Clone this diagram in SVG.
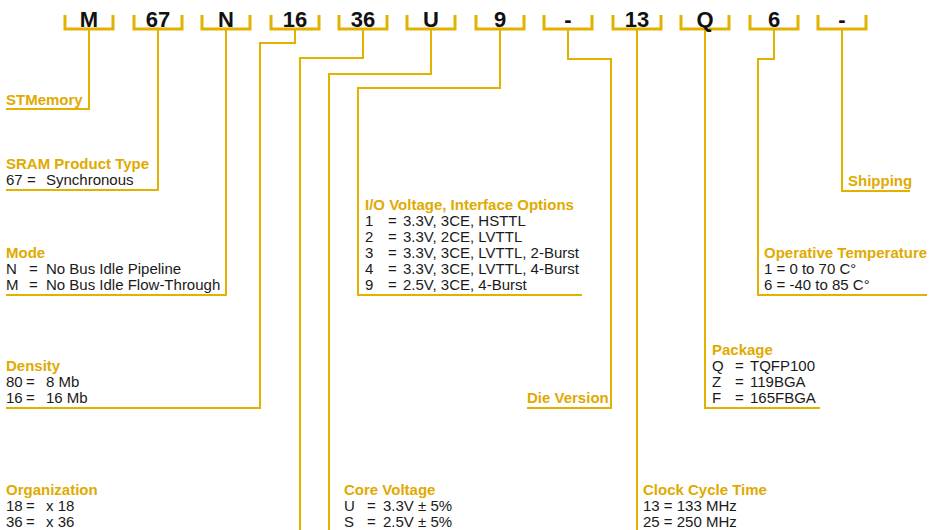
<svg xmlns="http://www.w3.org/2000/svg" width="933" height="530" viewBox="0 0 933 530">
<style>
.br{fill:none;stroke:#E3B100;stroke-width:3}
.cn{fill:none;stroke:#E3B100;stroke-width:2}
.code{font-family:"Liberation Sans",Arial,sans-serif;font-weight:bold;font-size:22px;fill:#111;text-anchor:middle}
.hd{font-family:"Liberation Sans",Arial,sans-serif;font-weight:bold;font-size:15px;fill:#E0AA00}
.bd{font-family:"Liberation Sans",Arial,sans-serif;font-size:15px;fill:#1a1a1a}
</style>
<rect width="933" height="530" fill="#fff"/>
<g id="codes">
<g id="c-M"><path class="br" d="M65 15V29H113V15"/><text class="code" x="89" y="27">M</text></g>
<g id="c-67"><path class="br" d="M134 15V29H182V15"/><text class="code" x="158" y="27">67</text></g>
<g id="c-N"><path class="br" d="M202 15V29H250V15"/><text class="code" x="226" y="27">N</text></g>
<g id="c-16"><path class="br" d="M271 15V29H319V15"/><text class="code" x="295" y="27">16</text></g>
<g id="c-36"><path class="br" d="M339 15V29H387V15"/><text class="code" x="363" y="27">36</text></g>
<g id="c-U"><path class="br" d="M407 15V29H455V15"/><text class="code" x="431" y="27">U</text></g>
<g id="c-9"><path class="br" d="M476 15V29H524V15"/><text class="code" x="500" y="27">9</text></g>
<g id="c-dash1"><path class="br" d="M544 15V29H592V15"/><text class="code" x="568" y="27">-</text></g>
<g id="c-13"><path class="br" d="M613 15V29H661V15"/><text class="code" x="637" y="27">13</text></g>
<g id="c-Q"><path class="br" d="M681 15V29H729V15"/><text class="code" x="705" y="27">Q</text></g>
<g id="c-6"><path class="br" d="M750 15V29H798V15"/><text class="code" x="774" y="27">6</text></g>
<g id="c-dash2"><path class="br" d="M818 15V29H866V15"/><text class="code" x="842" y="27">-</text></g>
</g>
<g id="connectors">
<path class="cn" d="M89 30V109H6"/>
<path class="cn" d="M158 30V190H6"/>
<path class="cn" d="M226 30V295H6"/>
<path class="cn" d="M295 30V43H260V408H6"/>
<path class="cn" d="M363 30V58H300V530"/>
<path class="cn" d="M431 30V74H329V530"/>
<path class="cn" d="M500 30V88H358V295H582"/>
<path class="cn" d="M568 30V59H611V408H527"/>
<path class="cn" d="M637 30V530"/>
<path class="cn" d="M705 30V408H820"/>
<path class="cn" d="M774 30V59H758V295H927"/>
<path class="cn" d="M842 30V191H910"/>
</g>
<g id="stmemory"><text class="hd" x="6" y="105">STMemory</text></g>
<g id="sram"><text class="hd" x="6" y="169">SRAM Product Type</text>
<text class="bd" y="185"><tspan x="6">67</tspan><tspan x="27">=</tspan><tspan x="46">Synchronous</tspan></text></g>
<g id="mode"><text class="hd" x="6" y="258">Mode</text>
<text class="bd" y="274"><tspan x="6">N</tspan><tspan x="29">=</tspan><tspan x="46">No Bus Idle Pipeline</tspan></text>
<text class="bd" y="290"><tspan x="6">M</tspan><tspan x="29">=</tspan><tspan x="46">No Bus Idle Flow-Through</tspan></text></g>
<g id="density"><text class="hd" x="6" y="371">Density</text>
<text class="bd" y="387"><tspan x="6">80</tspan><tspan x="26">=</tspan><tspan x="46">8 Mb</tspan></text>
<text class="bd" y="403"><tspan x="6">16</tspan><tspan x="26">=</tspan><tspan x="46">16 Mb</tspan></text></g>
<g id="organization"><text class="hd" x="6" y="495">Organization</text>
<text class="bd" y="511"><tspan x="6">18</tspan><tspan x="26">=</tspan><tspan x="46">x 18</tspan></text>
<text class="bd" y="527"><tspan x="6">36</tspan><tspan x="26">=</tspan><tspan x="46">x 36</tspan></text></g>
<g id="io"><text class="hd" x="365" y="210">I/O Voltage, Interface Options</text>
<text class="bd" y="226"><tspan x="365">1</tspan><tspan x="388">=</tspan><tspan x="403">3.3V, 3CE, HSTTL</tspan></text>
<text class="bd" y="242"><tspan x="365">2</tspan><tspan x="388">=</tspan><tspan x="403">3.3V, 2CE, LVTTL</tspan></text>
<text class="bd" y="258"><tspan x="365">3</tspan><tspan x="388">=</tspan><tspan x="403">3.3V, 3CE, LVTTL, 2-Burst</tspan></text>
<text class="bd" y="274"><tspan x="365">4</tspan><tspan x="388">=</tspan><tspan x="403">3.3V, 3CE, LVTTL, 4-Burst</tspan></text>
<text class="bd" y="290"><tspan x="365">9</tspan><tspan x="388">=</tspan><tspan x="403">2.5V, 3CE, 4-Burst</tspan></text></g>
<g id="core"><text class="hd" x="344" y="495">Core Voltage</text>
<text class="bd" y="511"><tspan x="344">U</tspan><tspan x="367">=</tspan><tspan x="383">3.3V ± 5%</tspan></text>
<text class="bd" y="527"><tspan x="344">S</tspan><tspan x="367">=</tspan><tspan x="383">2.5V ± 5%</tspan></text></g>
<g id="die"><text class="hd" x="527" y="403">Die Version</text></g>
<g id="clock"><text class="hd" x="643" y="495">Clock Cycle Time</text>
<text class="bd" x="643" y="511">13 = 133 MHz</text>
<text class="bd" x="643" y="527">25 = 250 MHz</text></g>
<g id="package"><text class="hd" x="712" y="355">Package</text>
<text class="bd" y="371"><tspan x="712">Q</tspan><tspan x="735">=</tspan><tspan x="750">TQFP100</tspan></text>
<text class="bd" y="387"><tspan x="712">Z</tspan><tspan x="735">=</tspan><tspan x="750">119BGA</tspan></text>
<text class="bd" y="403"><tspan x="712">F</tspan><tspan x="735">=</tspan><tspan x="750">165FBGA</tspan></text></g>
<g id="temperature"><text class="hd" x="764" y="258">Operative Temperature</text>
<text class="bd" x="764" y="274">1 = 0 to 70 C°</text>
<text class="bd" x="764" y="290">6 = -40 to 85 C°</text></g>
<g id="shipping"><text class="hd" x="848" y="186">Shipping</text></g>
</svg>
